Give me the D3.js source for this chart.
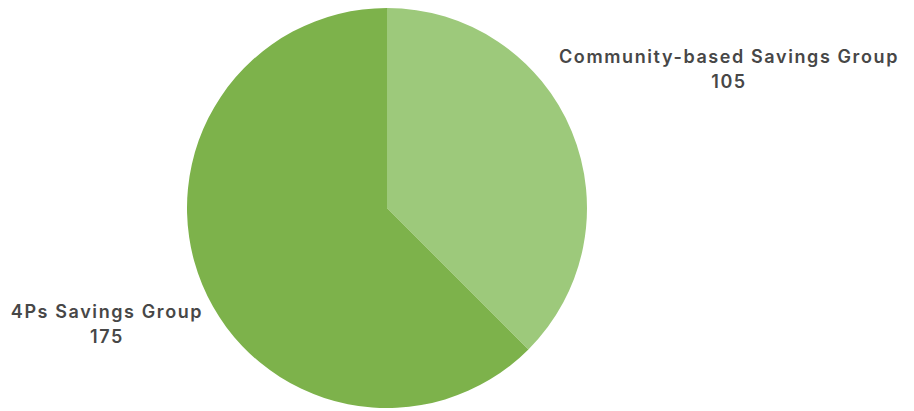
<!DOCTYPE html>
<html><head><meta charset="utf-8">
<script src="https://cdn.jsdelivr.net/npm/d3@7"></script>
<style>body{margin:0;background:#fff;} svg{display:block;}</style>
</head><body>
<svg id="c" width="914" height="411"></svg>
<script>
const categories = ["Community-based Savings Group", "4Ps Savings Group"];
const values = [105, 175];
const colors = ["#9dc97b", "#7db24b"];

const svg = d3.select("#c");
const cx = 387, cy = 208, r = 200;
const pie = d3.pie().sort(null).value(d => d.v);
const data = pie(categories.map((c, i) => ({c, v: values[i], col: colors[i]})));
const arc = d3.arc().innerRadius(0).outerRadius(r);
const g = svg.append("g").attr("transform", `translate(${cx},${cy})`);
g.selectAll("path").data(data).join("path").attr("d", arc).attr("fill", d => d.data.col);

const labelPos = [{x: 729, y: 63}, {x: 107, y: 318}];
data.forEach((d, i) => {
  const t = svg.append("text").attr("x", labelPos[i].x).attr("y", labelPos[i].y)
    .attr("text-anchor", "middle").attr("fill", "#474747")
    .style("font-family", "Inter, 'Noto Sans', sans-serif").style("font-size", "18px")
    .style("font-weight", 600).style("letter-spacing", "1.6px");
  t.append("tspan").attr("x", labelPos[i].x).text(d.data.c);
  t.append("tspan").attr("x", labelPos[i].x).attr("dy", 25).text(d3.format(",")(d.data.v));
});
</script>
</body></html>
